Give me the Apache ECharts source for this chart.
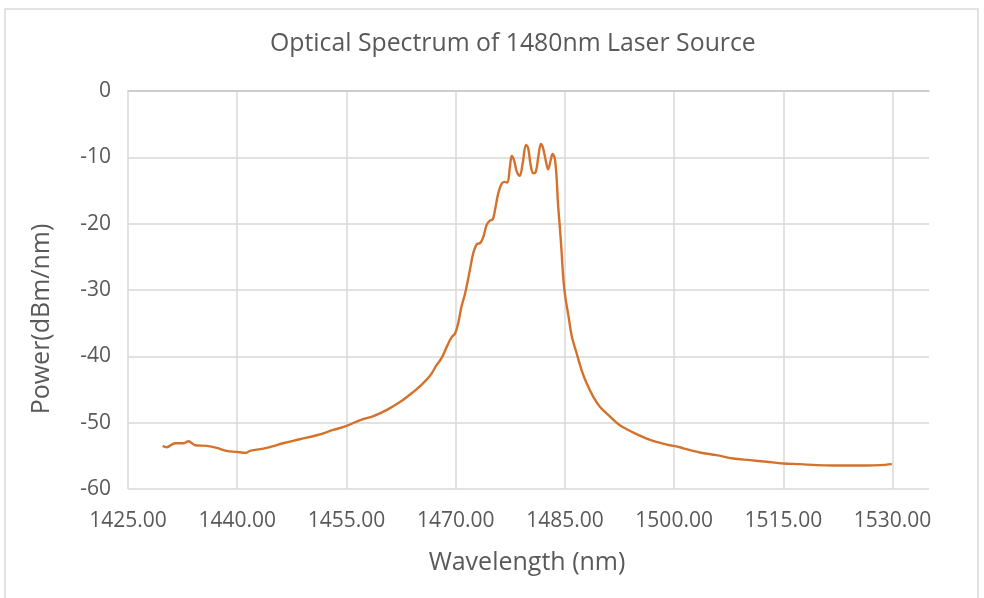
<!DOCTYPE html>
<html>
<head>
<meta charset="utf-8">
<script src="https://cdn.jsdelivr.net/npm/echarts@6/dist/echarts.min.js"></script>
<style>
html, body { margin: 0; padding: 0; background: #fff; }
#main { width: 984px; height: 598px; }
</style>
</head>
<body>
<div id="main"></div>
<script>
// wavelength (nm) / power (dBm/nm)
var wavelength = [
    1429.76, 1430.3, 1431.45, 1432.6, 1433.3, 1434.2, 1435.8, 1437.2, 1438.55, 1439.9,
    1441.2, 1441.75, 1444.05, 1446.3, 1448.6, 1450.9, 1453.2, 1455.0, 1456.9, 1458.7,
    1460.5, 1462.35, 1464.2, 1465.3, 1466.5, 1467.4, 1468.1, 1468.8, 1469.45, 1469.9,
    1470.35, 1470.8, 1471.3, 1471.95, 1472.4, 1472.9, 1473.4, 1473.8, 1474.25, 1474.7,
    1475.1, 1475.4, 1475.85, 1476.3, 1476.7, 1477.1, 1477.45, 1477.7, 1478.0, 1478.4,
    1478.8, 1479.2, 1479.65, 1479.95, 1480.3, 1480.65, 1481.0, 1481.35, 1481.7, 1482.0,
    1482.4, 1482.7, 1483.05, 1483.3, 1483.6, 1483.85, 1484.05, 1484.3, 1484.5, 1484.8,
    1485.05, 1485.5, 1485.95, 1486.6, 1487.3, 1488.0, 1488.9, 1489.8, 1491.2, 1492.55,
    1494.4, 1496.7, 1499.0, 1500.8, 1501.7, 1503.55, 1505.8, 1508.1, 1510.4, 1512.7,
    1515.0, 1517.3, 1519.6, 1521.9, 1524.15, 1526.45, 1528.3, 1529.9
];
var power = [
    -53.5, -53.7, -53.1, -53.1, -52.8, -53.4, -53.5, -53.8, -54.25, -54.4,
    -54.55, -54.25, -53.8, -53.1, -52.5, -51.9, -51.1, -50.5, -49.6, -49.0,
    -48.1, -46.9, -45.35, -44.3, -42.9, -41.3, -40.2, -38.5, -37.1, -36.6,
    -35.0, -32.5, -30.5, -27.0, -24.5, -23.1, -22.9, -22.0, -20.2, -19.55,
    -19.35, -17.95, -15.4, -14.0, -13.7, -13.8, -11.4, -9.8, -10.4, -12.2,
    -12.8, -10.9, -8.15, -8.6, -11.2, -12.4, -12.2, -9.9, -8.0, -8.6,
    -10.65, -11.8, -10.4, -9.5, -10.15, -12.9, -16.95, -20.5, -23.5, -28.5,
    -31.0, -34.0, -37.0, -39.5, -42.1, -44.1, -46.1, -47.6, -49.1, -50.4,
    -51.5, -52.6, -53.3, -53.7, -54.0, -54.5, -54.9, -55.4, -55.65, -55.9,
    -56.15, -56.25, -56.4, -56.45, -56.45, -56.45, -56.4, -56.25
];

var titleText = 'Optical Spectrum of 1480nm Laser Source';
var xName = 'Wavelength (nm)';
var yName = 'Power(dBm/nm)';

var textColor = '#595959';
var gridColor = '#d9d9d9';
var fontFam = '"Open Sans", "Noto Sans", sans-serif';

var points = [];
for (var i = 0; i < wavelength.length; i++) {
    points.push([wavelength[i], power[i]]);
}

var myChart = echarts.init(document.getElementById('main'), null, { renderer: 'canvas' });

var option = {
    animation: false,
    backgroundColor: '#fff',
    title: {
        text: titleText,
        left: 265,
        top: 26,
        textStyle: { color: textColor, fontFamily: fontFam, fontSize: 24.8, fontWeight: 'normal' }
    },
    grid: { left: 128, right: 55, top: 91, bottom: 109 },
    xAxis: {
        type: 'value',
        min: 1425,
        max: 1535,
        interval: 15,
        axisLine: { show: true, lineStyle: { color: '#c6c6c6', width: 1.5 } },
        axisTick: { show: false },
        axisLabel: {
            color: textColor,
            fontFamily: fontFam,
            fontSize: 21,
            margin: 22,
            showMaxLabel: false,
            formatter: function (v) { return v.toFixed(2); }
        },
        splitLine: { show: true, showMaxLine: false, lineStyle: { color: gridColor, width: 1.5 } }
    },
    yAxis: {
        type: 'value',
        min: -60,
        max: 0,
        interval: 10,
        axisLine: { show: false },
        axisTick: { show: false },
        axisLabel: { color: textColor, fontFamily: fontFam, fontSize: 21, margin: 17 },
        splitLine: { show: true, lineStyle: { color: gridColor, width: 1.5 } }
    },
    graphic: [
        {
            type: 'rect',
            shape: { x: 5, y: 9, width: 973, height: 600 },
            style: { fill: 'none', stroke: '#d9d9d9', lineWidth: 1.5 },
            silent: true
        },
        {
            type: 'text',
            x: 527,
            y: 563,
            style: {
                text: xName, fill: textColor, font: '25px ' + fontFam,
                align: 'center', verticalAlign: 'middle'
            }
        },
        {
            type: 'text',
            x: 42,
            y: 319,
            rotation: Math.PI / 2,
            style: {
                text: yName, fill: textColor, font: '25px ' + fontFam,
                align: 'center', verticalAlign: 'middle'
            }
        }
    ],
    series: [
        {
            type: 'line',
            data: points,
            showSymbol: false,
            smooth: 0.35,
            lineStyle: { color: '#d4722c', width: 2.4 },
            itemStyle: { color: '#d4722c' }
        }
    ]
};

myChart.setOption(option);
</script>
</body>
</html>
